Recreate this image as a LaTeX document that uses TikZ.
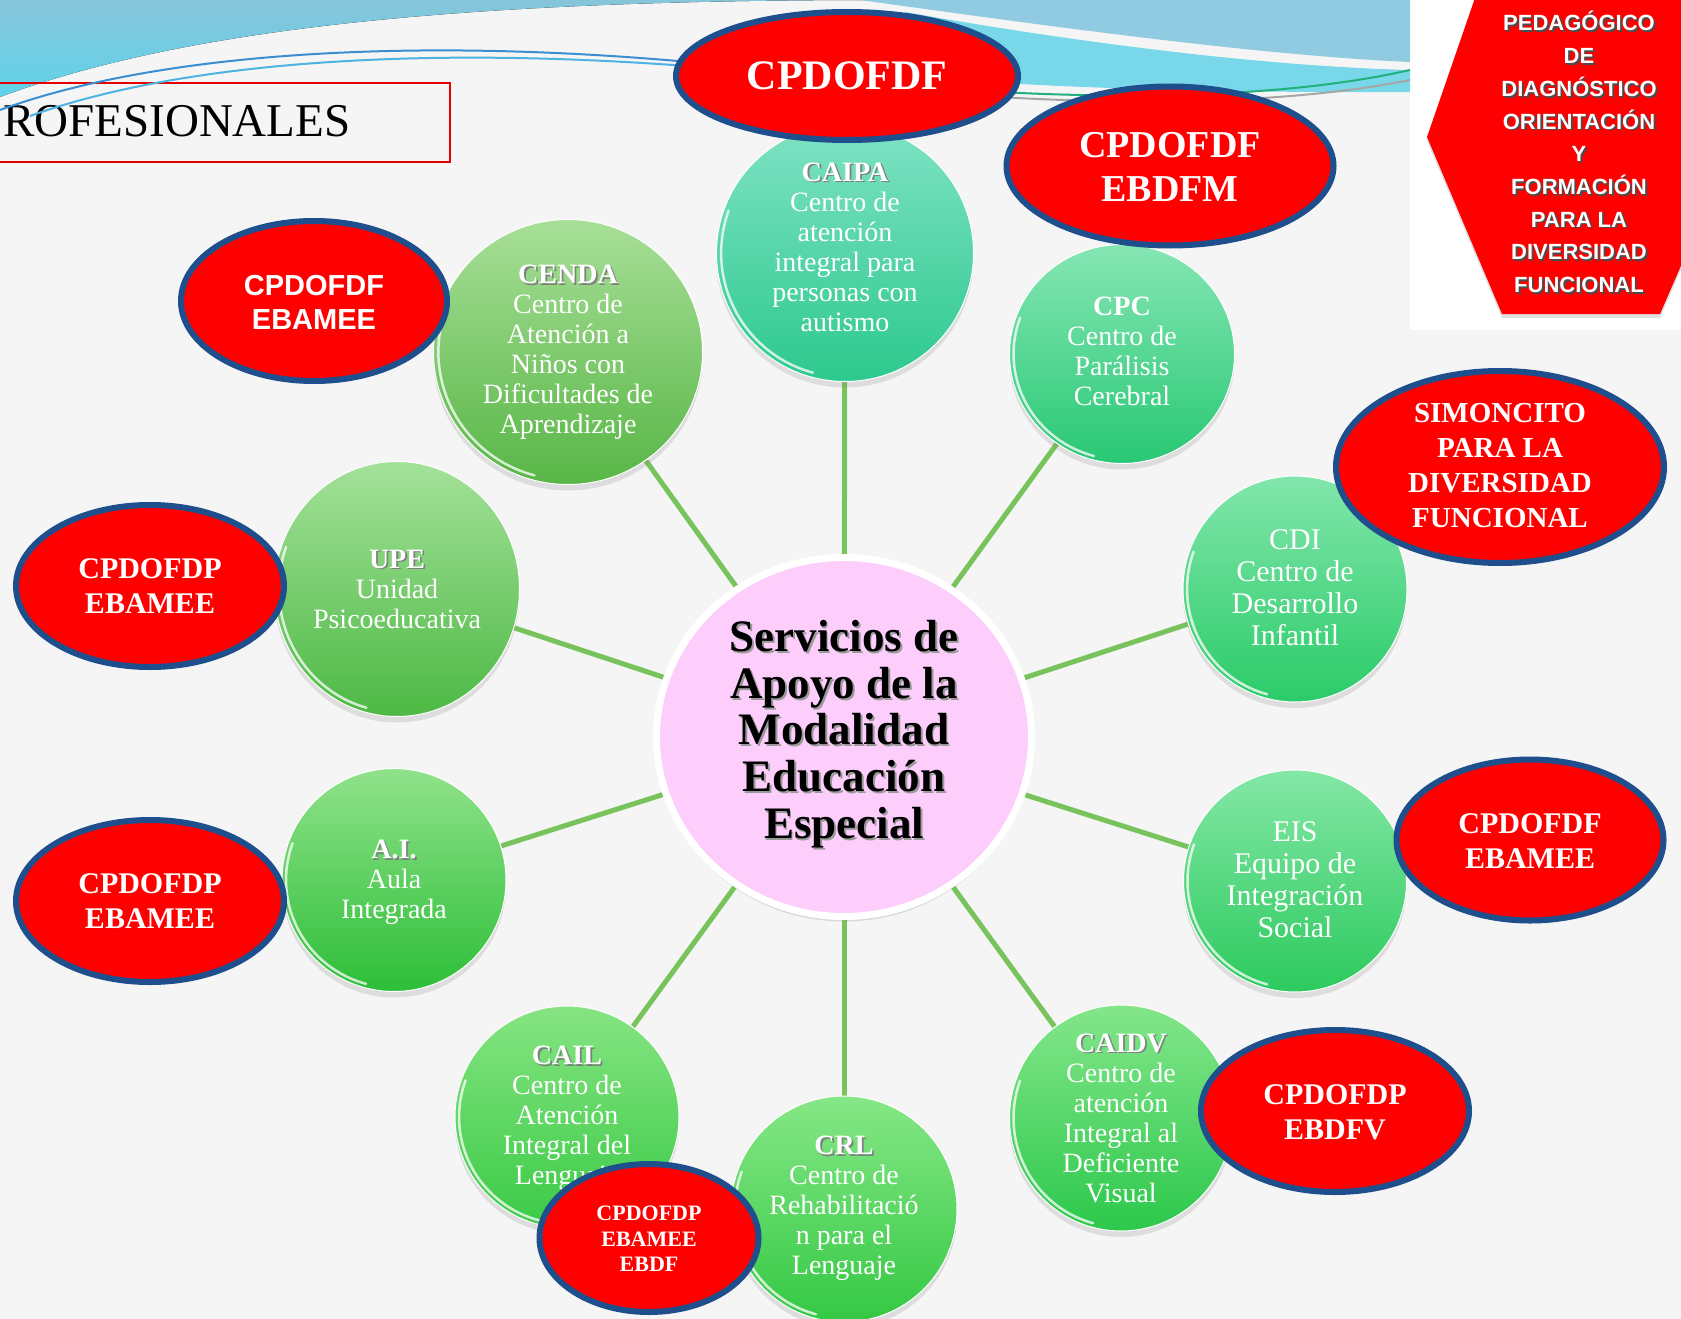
\documentclass[tikz,border=0pt]{standalone}
\usepackage{fontspec}
\setmainfont{Liberation Serif}
\setsansfont{Liberation Sans}
\usetikzlibrary{shapes.geometric,shadows}
\pgfdeclarelayer{paper}
\pgfdeclarelayer{links}
\pgfsetlayers{paper,links,main}

\definecolor{rojo}{HTML}{FF0000}
\definecolor{azulborde}{HTML}{1F4E8C}
\definecolor{rosa}{HTML}{FDCDFB}
\definecolor{verdelinea}{HTML}{78C35C}
\definecolor{fondo}{HTML}{F5F5F5}
\definecolor{olaA}{HTML}{86C5DA}
\definecolor{olaB}{HTML}{5FD3EA}
\definecolor{olaC}{HTML}{90CBE2}
\definecolor{olaD}{HTML}{78D8EA}
\definecolor{hiloA}{HTML}{3A8ED2}
\definecolor{hiloB}{HTML}{4DB3E2}
\definecolor{hiloC}{HTML}{22B07A}
\definecolor{cendaA}{HTML}{A8DF98}\definecolor{cendaB}{HTML}{58B646}
\definecolor{caipaA}{HTML}{7FE2C4}\definecolor{caipaB}{HTML}{2DC98E}
\definecolor{cpcA}{HTML}{86E6B4}\definecolor{cpcB}{HTML}{28C874}
\definecolor{upeA}{HTML}{A4E19A}\definecolor{upeB}{HTML}{4DB944}
\definecolor{cdiA}{HTML}{82E6AC}\definecolor{cdiB}{HTML}{2BCB68}
\definecolor{aiA}{HTML}{90E28A}\definecolor{aiB}{HTML}{2DBE38}
\definecolor{eisA}{HTML}{84E7A6}\definecolor{eisB}{HTML}{2CCA5E}
\definecolor{cailA}{HTML}{86E482}\definecolor{cailB}{HTML}{3ACA46}
\definecolor{caidvA}{HTML}{84E68A}\definecolor{caidvB}{HTML}{2CC84C}
\definecolor{crlA}{HTML}{86E786}\definecolor{crlB}{HTML}{34C844}

\newcommand{\sombra}[2][black!50]{\makebox[0pt][l]{\hspace*{1.8pt}\raisebox{-1.8pt}{\textcolor{#1}{#2}}}#2}

\begin{document}
\begin{tikzpicture}[x=1pt,y=-1pt,
    burbuja/.style 2 args={ellipse,inner sep=0pt,minimum width=#1,minimum height=#2,
      draw=white!70,line width=1pt,
      drop shadow={opacity=.2,shadow xshift=0pt,shadow yshift=-6pt},
      path picture={\draw[white,line width=2.5pt,opacity=.75,line cap=round]
        (path picture bounding box.center) ++(160:{0.482*#1} and {0.482*#2})
        arc[start angle=160,end angle=255,x radius={0.482*#1},y radius={0.482*#2}];}},
    nube/.style 2 args={ellipse,inner sep=0pt,minimum width=#1,minimum height=#2,
      fill=rojo,draw=azulborde,line width=6pt},
    enlace/.style={verdelinea,line width=5pt},
    gtexto/.style={text=white,align=center,font=\fontsize{28}{30}\selectfont},
    rtexto/.style={text=white,align=center,font=\bfseries\fontsize{30}{35}\selectfont}]
\useasboundingbox (0,0) rectangle (1681,1319);

\begin{pgfonlayer}{paper}
  \fill[fondo] (0,0) rectangle (1681,1319);
  \fill[white] (1410,0) rectangle (1681,330);
  % ola izquierda
  \fill[top color=olaA,bottom color=olaB] (0,0) -- (880,0) .. controls (450,0) and (180,30) .. (0,97) -- cycle;
  % ola derecha
  \fill[olaC] (860,0) -- (1410,0) -- (1410,62) .. controls (1250,55) and (1020,22) .. (860,0) -- cycle;
  \fill[olaD] (905,12) .. controls (1050,38) and (1250,66) .. (1410,70) -- (1410,92) .. controls (1300,93) and (1100,90) .. (990,82) -- cycle;
\end{pgfonlayer}

% titulo
\draw[red!90!black,line width=2pt] (-5,83) rectangle (450,162);
\node[anchor=base west,inner sep=0pt,font=\fontsize{47}{50}\selectfont] (profes) at (3,137) {ROFESIONALES};
\draw[hiloA,line width=2pt] (0,110) .. controls (150,55) and (400,35) .. (700,63);
\draw[hiloB,line width=2pt] (30,116) .. controls (180,62) and (420,45) .. (700,67);
\draw[hiloC,line width=2pt] (1000,92) .. controls (1150,100) and (1300,95) .. (1410,70);
\draw[gray!70,line width=2pt] (1000,97) .. controls (1150,106) and (1300,102) .. (1410,80);

% centro
\node[ellipse,inner sep=0pt,minimum width=375pt,minimum height=359pt,fill=rosa,draw=white,line width=7pt,
  drop shadow={opacity=.25,shadow xshift=0pt,shadow yshift=-5pt}] (servicios) at (844,737) {};
\node[align=center,font=\bfseries\fontsize{45}{46.7}\selectfont] (servicios-t) at (844,735)
  {\sombra[black!40]{Servicios de}\\\sombra[black!40]{Apoyo de la}\\\sombra[black!40]{Modalidad}\\\sombra[black!40]{Educación}\\\sombra[black!40]{Especial}};

% servicios
\node[burbuja={257pt}{257pt},top color=caipaA,bottom color=caipaB] (caipa) at (845,253) {};
\node[gtexto] (caipa-t) at (845,247) {\textbf{\sombra{CAIPA}}\\Centro de\\atención\\integral para\\personas con\\autismo};
\node[burbuja={269pt}{265pt},top color=cendaA,bottom color=cendaB] (cenda) at (568,352) {};
\node[gtexto] (cenda-t) at (568,352) {\textbf{\sombra{CENDA}}\\Centro de\\Atención a\\Niños con\\Dificultades de\\Aprendizaje};
\node[burbuja={225pt}{219pt},top color=cpcA,bottom color=cpcB] (cpc) at (1122,354) {};
\node[gtexto] (cpc-t) at (1122,351) {\textbf{CPC}\\Centro de\\Parálisis\\Cerebral};
\node[burbuja={245pt}{255pt},top color=upeA,bottom color=upeB] (upe) at (397,589) {};
\node[gtexto] (upe-t) at (397,589) {\textbf{\sombra{UPE}}\\Unidad\\Psicoeducativa};
\node[burbuja={224pt}{226pt},top color=cdiA,bottom color=cdiB] (cdi) at (1295,589) {};
\node[gtexto,font=\fontsize{30}{32}\selectfont] (cdi-t) at (1295,588) {CDI\\Centro de\\Desarrollo\\Infantil};
\node[burbuja={224pt}{223pt},top color=aiA,bottom color=aiB] (ai) at (394,880) {};
\node[gtexto] (ai-t) at (394,882) {\textbf{\sombra{A.I.}}\\Aula\\Integrada};
\node[burbuja={223pt}{222pt},top color=eisA,bottom color=eisB] (eis) at (1295,881) {};
\node[gtexto,font=\fontsize{30}{32}\selectfont] (eis-t) at (1295,880) {EIS\\Equipo de\\Integración\\Social};
\node[burbuja={224pt}{222pt},top color=cailA,bottom color=cailB] (cail) at (567,1117) {};
\node[gtexto] (cail-t) at (567,1118) {\textbf{\sombra{CAIL}}\\Centro de\\Atención\\Integral del\\Lenguaje};
\node[burbuja={223pt}{226pt},top color=caidvA,bottom color=caidvB] (caidv) at (1121,1118) {};
\node[gtexto] (caidv-t) at (1121,1118) {\textbf{\sombra{CAIDV}}\\Centro de\\atención\\Integral al\\Deficiente\\Visual};
\node[burbuja={226pt}{226pt},top color=crlA,bottom color=crlB] (crl) at (844,1209) {};
\node[gtexto] (crl-t) at (844,1208) {\textbf{\sombra{CRL}}\\Centro de\\Rehabilitació\\n para el\\Lenguaje};

\begin{pgfonlayer}{links}
  \draw[enlace] (servicios) -- (caipa);
  \draw[enlace] (servicios) -- (cenda);
  \draw[enlace] (servicios) -- (cpc);
  \draw[enlace] (servicios) -- (upe);
  \draw[enlace] (servicios) -- (cdi);
  \draw[enlace] (servicios) -- (ai);
  \draw[enlace] (servicios) -- (eis);
  \draw[enlace] (servicios) -- (cail);
  \draw[enlace] (servicios) -- (caidv);
  \draw[enlace] (servicios) -- (crl);
\end{pgfonlayer}

% centros pedagogicos
\node[nube={342pt}{128pt}] (cpTop) at (847,76) {};
\node[rtexto,font=\bfseries\fontsize{42}{44}\selectfont] (cpTop-t) at (847,76) {CPDOFDF};
\node[nube={327pt}{159pt}] (cpEbdfm) at (1170,166) {};
\node[rtexto,font=\bfseries\fontsize{38}{44}\selectfont] (cpEbdfm-t) at (1170,167) {CPDOFDF\\EBDFM};
\node[nube={266pt}{160pt}] (cpSans) at (314,301) {};
\node[rtexto,font=\sffamily\bfseries\fontsize{29}{34}\selectfont] (cpSans-t) at (314,302) {CPDOFDF\\EBAMEE};
\node[nube={328pt}{192pt}] (simoncito) at (1500,467) {};
\node[rtexto,font=\bfseries\fontsize{29}{35}\selectfont] (simoncito-t) at (1500,466) {SIMONCITO\\PARA LA\\DIVERSIDAD\\FUNCIONAL};
\node[nube={268pt}{162pt}] (cpIzqA) at (150,586) {};
\node[rtexto] (cpIzqA-t) at (150,586) {CPDOFDP\\EBAMEE};
\node[nube={268pt}{162pt}] (cpIzqB) at (150,901) {};
\node[rtexto] (cpIzqB-t) at (150,901) {CPDOFDP\\EBAMEE};
\node[nube={267pt}{161pt}] (cpDer) at (1530,840) {};
\node[rtexto] (cpDer-t) at (1530,841) {CPDOFDF\\EBAMEE};
\node[nube={268pt}{162pt}] (cpEbdfv) at (1335,1111) {};
\node[rtexto] (cpEbdfv-t) at (1335,1112) {CPDOFDP\\EBDFV};
\node[nube={219pt}{148pt}] (cpPeq) at (649,1238) {};
\node[rtexto,font=\bfseries\fontsize{22}{25.5}\selectfont] (cpPeq-t) at (649,1239) {CPDOFDP\\EBAMEE\\EBDF};

% hexagono
\fill[rojo,drop shadow={opacity=.25,shadow xshift=0pt,shadow yshift=-4pt}]
  (1427,137) -- (1476,-5) -- (1690,-5) -- (1690,245) -- (1660,314) -- (1502,314) -- cycle;
\node[text=white,align=center,font=\sffamily\bfseries\fontsize{22}{32.7}\selectfont] (hexa-t) at (1579,153)
  {\sombra[black!70]{PEDAGÓGICO}\\\sombra[black!70]{DE}\\\sombra[black!70]{DIAGNÓSTICO}\\\sombra[black!70]{ORIENTACIÓN}\\\sombra[black!70]{Y}\\\sombra[black!70]{FORMACIÓN}\\\sombra[black!70]{PARA LA}\\\sombra[black!70]{DIVERSIDAD}\\\sombra[black!70]{FUNCIONAL}};
\end{tikzpicture}
\end{document}
